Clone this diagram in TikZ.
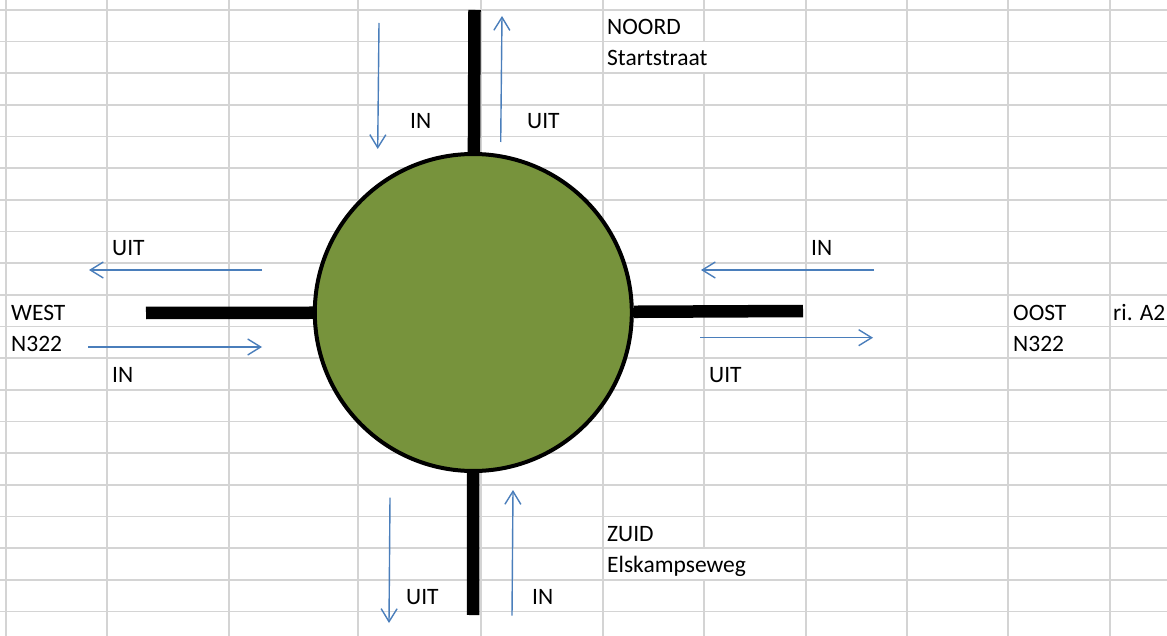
\documentclass[tikz,border=0pt]{standalone}
\usepackage{fontspec}
\setmainfont{Carlito}
\usetikzlibrary{arrows.meta}
\definecolor{gridgray}{HTML}{D4D4D4}
\definecolor{flowblue}{HTML}{4A7EBB}
\definecolor{islandgreen}{HTML}{77933C}

\begin{document}
\begin{tikzpicture}[x=1pt,y=-1pt,
  cellline/.style={gridgray,line width=1.6pt},
  road/.style={black,line width=12.5pt},
  flow/.style={flowblue,line width=1.4pt,-{Straight Barb[length=13pt,width=16pt]}},
  lbl/.style={anchor=base west,inner sep=0pt,font=\fontsize{23.5}{28}\selectfont}]

\useasboundingbox (0,0) rectangle (1167,636);
\fill[white] (0,0) rectangle (1167,636);

% spreadsheet cell grid
\foreach \k in {0,...,19}
  \draw[cellline] (0,{10+31.65*\k}) -- (1167,{10+31.65*\k});
\foreach \x in {6,107,229,358,481,603,806,907,1008,1110}
  \draw[cellline] (\x,0) -- (\x,636);
% this column border is hidden where long street names run over it
\draw[cellline] (704,0) -- (704,41.65) (704,73.3) -- (704,548.05) (704,579.7) -- (704,636);

% roundabout island
\node[circle,draw=black,line width=4pt,fill=islandgreen,minimum size=317pt,inner sep=0pt]
  (rb) at (473.3,312.5) {};

% road ends
\coordinate (nEnd) at (474.5,10);
\coordinate (sEnd) at (473,615);
\coordinate (wEnd) at (146,313);
\coordinate (eEnd) at (803,311);

\draw[road] (rb) -- (nEnd);
\draw[road] (rb) -- (sEnd);
\draw[road] (rb) -- (wEnd);
\draw[road] (rb) -- (eEnd);

% traffic directions
\coordinate (nInA) at (379,23);    \coordinate (nInB) at (377.7,149);
\coordinate (nOutA) at (500.7,142); \coordinate (nOutB) at (502,16);
\coordinate (wOutA) at (262,270);  \coordinate (wOutB) at (89,270);
\coordinate (wInA) at (88,347);    \coordinate (wInB) at (262,347);
\coordinate (eInA) at (874,270);   \coordinate (eInB) at (701,270);
\coordinate (eOutA) at (700,337.7); \coordinate (eOutB) at (873,337.7);
\coordinate (sOutA) at (390,497.7); \coordinate (sOutB) at (389,623);
\coordinate (sInA) at (512,615.7);  \coordinate (sInB) at (513,490);

\draw[flow] (nInA) -- (nInB);
\draw[flow] (nOutA) -- (nOutB);
\draw[flow] (wOutA) -- (wOutB);
\draw[flow] (wInA) -- (wInB);
\draw[flow] (eInA) -- (eInB);
\draw[flow] (eOutA) -- (eOutB);
\draw[flow] (sOutA) -- (sOutB);
\draw[flow] (sInA) -- (sInB);

% labels
\node[lbl] (noord) at (607,35) {NOORD};
\node[lbl] (noordStr) at (607,66) {Startstraat};
\node[lbl] (nIn) at (410,129) {IN};
\node[lbl] (nOut) at (527,129) {UIT};

\node[lbl] (wOut) at (112,256) {UIT};
\node[lbl] (west) at (11,320) {WEST};
\node[lbl] (westStr) at (11,351) {N322};
\node[lbl] (wIn) at (112,382) {IN};

\node[lbl] (eIn) at (811,256) {IN};
\node[lbl] (eOut) at (709,382) {UIT};
\node[lbl] (oost) at (1013,320) {OOST};
\node[lbl] (oostDir) at (1113,320) {ri. A2};
\node[lbl] (oostStr) at (1013,351) {N322};

\node[lbl] (zuid) at (607,541) {ZUID};
\node[lbl] (zuidStr) at (607,572.6) {Elskampseweg};
\node[lbl] (sOut) at (406,604) {UIT};
\node[lbl] (sIn) at (532,604) {IN};
\end{tikzpicture}
\end{document}
